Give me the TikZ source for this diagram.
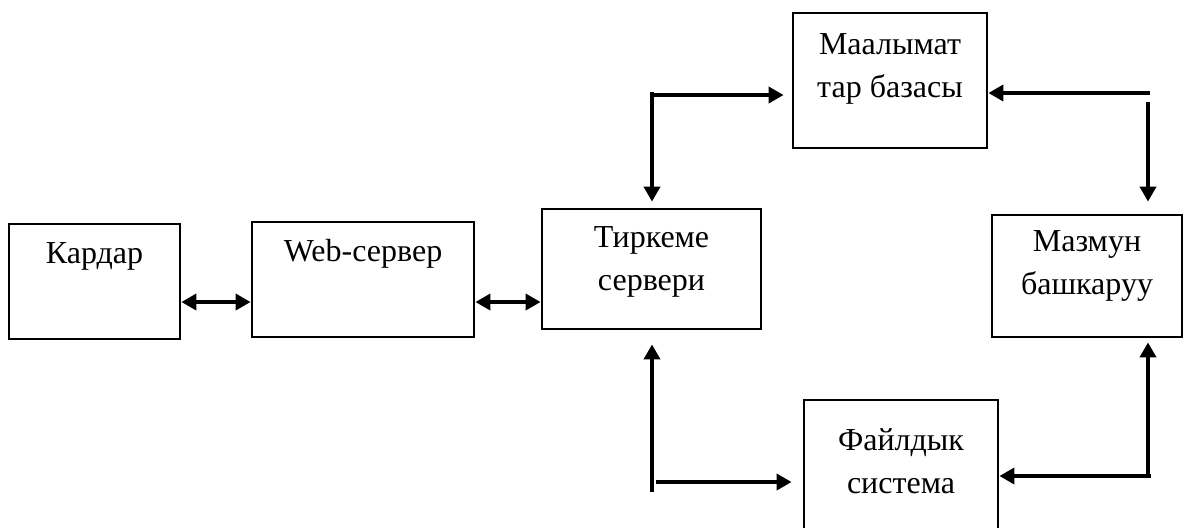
\documentclass[tikz,border=0pt]{standalone}
\usepackage{fontspec}
\setmainfont{Liberation Serif}
\usetikzlibrary{arrows.meta,positioning,calc}

\begin{document}
\begin{tikzpicture}[x=0.5pt,y=-0.5pt,
    block/.style={draw, line width=1.4pt, inner sep=0pt},
    lbl/.style={font=\fontsize{16}{21.5}\selectfont, align=center},
    arr/.style={line width=1.9pt, -{Triangle[length=7.5pt,width=8pt]}},
    dbl/.style={line width=1.9pt, {Triangle[length=7.5pt,width=8pt]}-{Triangle[length=7.5pt,width=8pt]}}]
  \useasboundingbox (0,0) rectangle (1184,527);
  \clip (0,0) rectangle (1184,527);

  % Blocks
  \node[block, minimum width=85.5pt, minimum height=57.5pt] (kardar) at (94.5,281.5) {};
  \node[block, minimum width=111pt, minimum height=57.5pt] (web) at (363,279.5) {};
  \node[block, minimum width=109.5pt, minimum height=60pt] (tirkeme) at (651.5,269) {};
  \node[block, minimum width=97pt, minimum height=67.5pt] (baza) at (890,80.5) {};
  \node[block, minimum width=95pt, minimum height=61pt] (mazmun) at (1087,276) {};
  \node[block, minimum width=97pt, minimum height=70pt] (fayl) at (901,470) {};

  % Texts
  \node[lbl] (kardarT) at ([yshift=-17pt]kardar.north) {Кардар};
  \node[lbl] (webT) at ([yshift=-16.5pt]web.north) {Web-сервер};
  \node[lbl] (tirkemeT) at ([yshift=-27.25pt]tirkeme.north) {Тиркеме\\сервери};
  \node[lbl] (bazaT) at ([yshift=-28.5pt]baza.north) {Маалымат\\тар базасы};
  \node[lbl] (mazmunT) at ([yshift=-26.25pt]mazmun.north) {Мазмун\\башкаруу};
  \node[lbl] (faylT) at ([yshift=-31.25pt]fayl.north) {Файлдык\\система};

  % Кардар <-> Web-сервер <-> Тиркеме
  \draw[dbl] ([yshift=-10.25pt]kardar.east) -- ([yshift=-10.25pt]kardar.east -| web.west);
  \draw[dbl] ([yshift=-11.25pt]web.east) -- ([yshift=-11.25pt]web.east -| tirkeme.west);

  % Top left elbow
  \coordinate (tl) at (652,95);
  \draw[arr, shorten >=3pt] ([yshift=1.5pt]tl) -- (tl |- tirkeme.north);
  \draw[arr, shorten >=4pt] (tl) -- (tl -| baza.west);

  % Top right
  \coordinate (tr) at (1150,93);
  \coordinate (tr2) at (1148,102);
  \draw[arr] (tr) -- (tr -| baza.east);
  \draw[arr, shorten >=6pt] (tr2) -- (tr2 |- mazmun.north);

  % Bottom left
  \coordinate (bl) at (652,492);
  \coordinate (bl2) at (656,482);
  \draw[arr, shorten >=7pt] (bl) -- (bl |- tirkeme.south);
  \draw[arr, shorten >=5.5pt] (bl2) -- (bl2 -| fayl.west);

  % Bottom right elbow
  \coordinate (br) at (1148,476);
  \draw[arr] ([xshift=1.5pt]br) -- (br -| fayl.east);
  \draw[arr, shorten >=2pt] (br) -- (br |- mazmun.south);
\end{tikzpicture}
\end{document}
